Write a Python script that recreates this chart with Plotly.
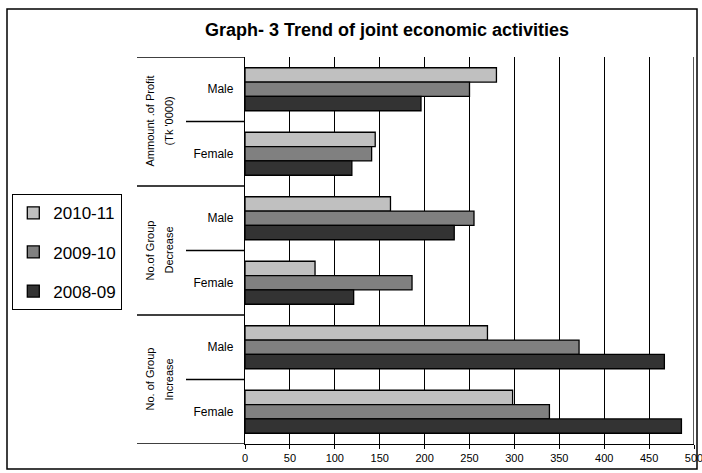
import plotly.graph_objects as go

# Category rows, listed top to bottom
groups = ["Profit", "Profit", "Decrease", "Decrease", "Increase", "Increase"]
genders = ["Male", "Female", "Male", "Female", "Male", "Female"]
categories = [g + " " + s for g, s in zip(groups, genders)]

# Group captions (two lines each, rotated)
group_line1 = ["Ammount .of Profit", "No.of Group", "No. of Group"]
group_line2 = ["(Tk '0000)", "Decrease", "Increase"]

# Series values
years = ["2010-11", "2009-10", "2008-09"]
values = {
    "2010-11": [280, 145, 162, 78, 270, 298],
    "2009-10": [250, 141, 255, 186, 372, 339],
    "2008-09": [196, 119, 233, 121, 467, 486],
}
colors = {"2010-11": "#C0C0C0", "2009-10": "#808080", "2008-09": "#333333"}

x_ticks = [0, 50, 100, 150, 200, 250, 300, 350, 400, 450, 500]
x_max = 500

W, H = 702, 473
L, R, T, B = 245, 8, 57, 29
PW, PH = W - L - R, H - T - B


def px_x(px):
    return (px - L) / PW


def px_y(py):
    return (H - B - py) / PH


FONT = "Arial, Liberation Sans, sans-serif"

fig = go.Figure()
for yr in years:
    fig.add_trace(go.Bar(
        x=values[yr], y=categories, orientation="h", name=yr,
        marker=dict(color=colors[yr], line=dict(color="black", width=1.3)),
        legendgroup=yr,
    ))

shapes = []
# outer frame
shapes.append(dict(type="rect", xref="paper", yref="paper",
                   x0=px_x(7), x1=px_x(697), y0=px_y(469), y1=px_y(9),
                   line=dict(color="black", width=1.5)))
# right edge of the plot area (last gridline)
shapes.append(dict(type="line", xref="x", yref="paper",
                   x0=x_max, x1=x_max, y0=0, y1=1,
                   line=dict(color="black", width=1.3)))
# separators of the category label area
for yb in [-0.5, 1.5, 3.5, 5.5]:
    shapes.append(dict(type="line", xref="paper", yref="y",
                       x0=px_x(137), x1=0, y0=yb, y1=yb,
                       line=dict(color="black", width=1.3)))
for yb in [0.5, 2.5, 4.5]:
    shapes.append(dict(type="line", xref="paper", yref="y",
                       x0=px_x(186), x1=0, y0=yb, y1=yb,
                       line=dict(color="black", width=1.3)))

annotations = []
for i in range(3):
    yc = 2 * i + 0.5
    annotations.append(dict(text=group_line1[i], xref="paper", yref="y",
                            x=px_x(149), y=yc, textangle=-90, showarrow=False,
                            xanchor="center", yanchor="middle",
                            font=dict(family=FONT, size=11, color="black")))
    annotations.append(dict(text=group_line2[i], xref="paper", yref="y",
                            x=px_x(168), y=yc, textangle=-90, showarrow=False,
                            xanchor="center", yanchor="middle",
                            font=dict(family=FONT, size=11, color="black")))

fig.update_layout(
    width=W, height=H,
    margin=dict(l=L, r=R, t=T, b=B, pad=0, autoexpand=False),
    paper_bgcolor="white", plot_bgcolor="white",
    barmode="group", bargap=0.333, bargroupgap=0,
    font=dict(family=FONT, color="black"),
    title=dict(text="<b>Graph- 3 Trend of joint economic activities</b>",
               xref="container", yref="container", x=387 / W, y=1 - 30 / H,
               xanchor="center", yanchor="middle",
               font=dict(family=FONT, size=18, color="black")),
    xaxis=dict(range=[0, x_max], tickvals=x_ticks, showgrid=True,
               gridcolor="black", gridwidth=1.3, zeroline=False,
               showline=True, linecolor="black", linewidth=1.3,
               ticks="outside", ticklen=4, tickcolor="black",
               ticklabeloverflow="allow", automargin=False,
               tickfont=dict(family=FONT, size=11, color="black")),
    yaxis=dict(categoryorder="array", categoryarray=categories,
               autorange=False, range=[5.5, -0.5], automargin=False,
               tickvals=categories, ticktext=genders,
               showline=True, linecolor="black", linewidth=1.3,
               ticks="", ticklabelstandoff=8, showgrid=False,
               tickfont=dict(family=FONT, size=12, color="black")),
    legend=dict(x=px_x(12), y=px_y(194), xanchor="left", yanchor="top",
                bordercolor="black", borderwidth=1.3, bgcolor="white",
                font=dict(family=FONT, size=17, color="black"),
                tracegroupgap=14, traceorder="grouped"),
    shapes=shapes, annotations=annotations,
)

fig.write_html("out.html")
